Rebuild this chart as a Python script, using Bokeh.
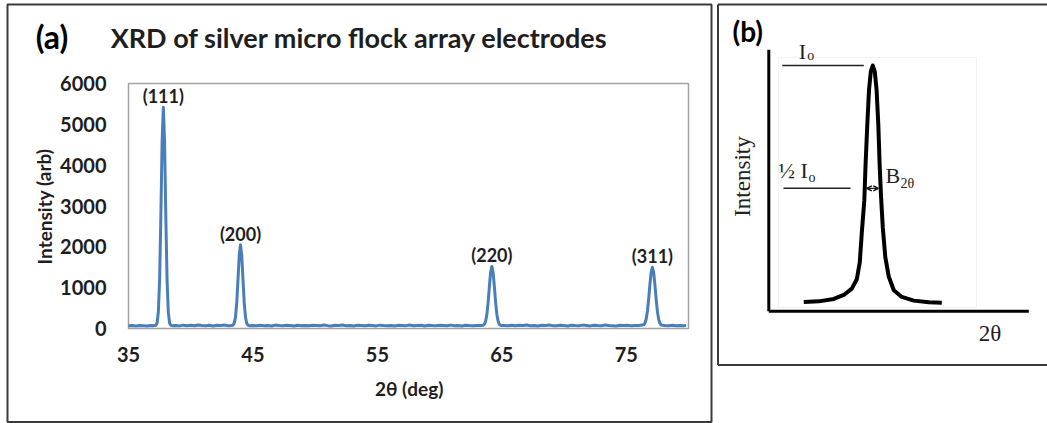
from bokeh.plotting import figure
from bokeh.models import Range1d, FixedTicker, LinearAxis, Arrow, OpenHead
from bokeh.core.properties import value
from bokeh.embed import file_html
from bokeh.resources import INLINE

# ---------------- Panel (a) data: XRD scan ----------------
seg_a_x = [35.0, 35.3, 35.6, 35.9, 36.2, 36.5, 36.8, 37.0]
seg_a_y = [66, 72, 60, 75, 68, 63, 74, 70]
peak1_x = [37.1, 37.2, 37.3, 37.4, 37.5, 37.6, 37.7, 37.8, 37.9, 38.0, 38.1, 38.2, 38.3, 38.4, 38.5]
peak1_y = [72, 80, 140, 410, 1190, 2740, 4570, 5420, 4560, 2720, 1170, 400, 135, 78, 70]
seg_b_x = [38.8, 39.1, 39.4, 39.7, 40.0, 40.3, 40.6, 40.9, 41.2, 41.5, 41.8, 42.1, 42.4, 42.7, 43.0]
seg_b_y = [76, 64, 82, 70, 78, 66, 85, 72, 69, 80, 63, 77, 71, 84, 68]
peak2_x = [43.3, 43.4, 43.5, 43.6, 43.7, 43.8, 43.9, 44.0, 44.1, 44.2, 44.3, 44.4, 44.5, 44.6, 44.7]
peak2_y = [74, 84, 131, 284, 640, 1210, 1790, 2050, 1785, 1200, 630, 280, 128, 82, 70]
seg_c_x = [45.0, 45.3, 45.6, 45.9, 46.2, 46.5, 46.8, 47.1, 47.4, 47.7, 48.0, 48.3, 48.6, 48.9,
           49.2, 49.5, 49.8, 50.1, 50.4, 50.7, 51.0, 51.3, 51.6, 51.9, 52.2, 52.5, 52.8, 53.1,
           53.4, 53.7, 54.0, 54.3, 54.6, 54.9, 55.2, 55.5, 55.8, 56.1, 56.4, 56.7, 57.0, 57.3,
           57.6, 57.9, 58.2, 58.5, 58.8, 59.1, 59.4, 59.7, 60.0, 60.3, 60.6, 60.9, 61.2, 61.5,
           61.8, 62.1, 62.4, 62.7, 63.0, 63.3]
seg_c_y = [72, 66, 80, 69, 75, 62, 83, 71, 67, 78, 74, 60, 81, 70, 76, 65, 79, 73, 68, 84,
           70, 63, 77, 72, 86, 69, 74, 61, 80, 75, 67, 78, 71, 64, 82, 73, 69, 76, 62, 79,
           74, 70, 85, 66, 72, 78, 63, 80, 71, 68, 77, 73, 65, 83, 70, 75, 62, 79, 72, 68,
           76, 71]
peak3_x = [63.5, 63.6, 63.7, 63.8, 63.9, 64.0, 64.1, 64.2, 64.3, 64.4, 64.5, 64.6, 64.7, 64.8, 64.9]
peak3_y = [79, 105, 180, 348, 643, 1030, 1378, 1520, 1375, 1025, 640, 345, 178, 102, 76]
seg_d_x = [65.2, 65.5, 65.8, 66.1, 66.4, 66.7, 67.0, 67.3, 67.6, 67.9, 68.2, 68.5, 68.8, 69.1,
           69.4, 69.7, 70.0, 70.3, 70.6, 70.9, 71.2, 71.5, 71.8, 72.1, 72.4, 72.7, 73.0, 73.3,
           73.6, 73.9, 74.2, 74.5, 74.8, 75.1, 75.4, 75.7, 76.0]
seg_d_y = [73, 68, 80, 65, 77, 71, 84, 69, 75, 62, 79, 73, 88, 70, 66, 81, 74, 63, 78, 71,
           69, 83, 75, 64, 80, 72, 67, 85, 76, 70, 62, 78, 73, 81, 68, 74, 71]
peak4_x = [76.4, 76.5, 76.6, 76.7, 76.8, 76.9, 77.0, 77.1, 77.2, 77.3, 77.4, 77.5, 77.6, 77.7, 77.8]
peak4_y = [90, 133, 233, 428, 725, 1081, 1381, 1500, 1378, 1075, 720, 425, 230, 130, 88]
seg_e_x = [78.1, 78.4, 78.7, 79.0, 79.3, 79.6, 79.8]
seg_e_y = [75, 68, 80, 66, 74, 70, 72]

peak_labels = ["(111)", "(200)", "(220)", "(311)"]
peak_pos = [37.8, 44.0, 64.2, 77.1]
peak_height = [5420, 2050, 1520, 1500]

x_min, x_max = 35, 80
y_min, y_max = 0, 6000
x_ticks = [35, 45, 55, 65, 75]
y_ticks = [0, 1000, 2000, 3000, 4000, 5000, 6000]

scan_x = seg_a_x + peak1_x + seg_b_x + peak2_x + seg_c_x + peak3_x + seg_d_x + peak4_x + seg_e_x
scan_y = seg_a_y + peak1_y + seg_b_y + peak2_y + seg_c_y + peak3_y + seg_d_y + peak4_y + seg_e_y

# ---------------- Panel (b) data: schematic peak ----------------
curve_u = [3.5, 5.0, 6.5, 7.5, 8.3, 8.8, 9.1, 9.3, 9.55, 9.68, 9.85, 10.02, 10.2, 10.4,
           10.6, 10.78, 10.95, 11.08, 11.22, 11.4, 11.65, 12.0, 12.5, 13.3, 14.5, 16.0, 17.3]
curve_v = [0.037, 0.040, 0.050, 0.066, 0.092, 0.13, 0.2, 0.32, 0.45, 0.6, 0.76, 0.9, 0.975, 1.0,
           0.975, 0.9, 0.76, 0.6, 0.47, 0.34, 0.22, 0.14, 0.085, 0.058, 0.043, 0.036, 0.034]
i0_level = 1.0
half_level = 0.5
i0_line_u = [1.34, 9.5]
half_line_u = [1.47, 8.17]
fwhm_u = [9.8, 10.95]
axis_top_v = 1.064
axis_right_u = 26.0

FONT = "Lato"
SERIF = "Liberation Serif"
BLUE = "#4A7EBB"
TXT = "#1e1e1e"
BOX = "#3a3a3a"

W, H = 1047, 423

# one canvas; the default ranges are page pixels (y downward) used for the panel boxes
p = figure(width=W, height=H, x_range=Range1d(0, W), y_range=Range1d(H, 0),
           output_backend="svg", toolbar_location=None, x_axis_type=None, y_axis_type=None,
           min_border_left=0, min_border_right=0, min_border_top=0, min_border_bottom=0)
p.title.visible = False
p.outline_line_color = None
p.background_fill_color = "white"
p.border_fill_color = "white"

# panel (a) data ranges: 35 -> x=128px, 80 -> x=688px ; 0 -> y=328px, 6000 -> y=83px
kx = (688 - 128) / (x_max - x_min)
ky = (328 - 83) / (y_max - y_min)
p.extra_x_ranges = {
    "ax": Range1d(x_min - 128 / kx, x_min + (W - 128) / kx),
    "bu": Range1d((0 - 768.3) / 10, (W - 768.3) / 10),
}
p.extra_y_ranges = {
    "ay": Range1d(y_min - (H - 328) / ky, y_min + 328 / ky),
    "bv": Range1d((310.7 - H) / 245.7, 310.7 / 245.7),
}
A = dict(x_range_name="ax", y_range_name="ay")
B = dict(x_range_name="bu", y_range_name="bv")

# ---- panel boxes (page pixels) ----
p.quad(left=[7], right=[711], top=[4], bottom=[421.5], fill_color=None, line_color=BOX, line_width=2)
p.multi_line(xs=[[717.5, 717.5], [717.5, W], [717.5, W]], ys=[[4, 364.5], [4, 4], [364.5, 364.5]],
             line_color=BOX, line_width=2)

# ---- panel (a) ----
p.quad(left=[x_min], right=[x_max], bottom=[y_min], top=[y_max], fill_color=None,
       line_color="#a3a3a3", line_width=1.5, **A)

xa = LinearAxis(fixed_location=y_min, ticker=FixedTicker(ticks=x_ticks), **A)
ya = LinearAxis(fixed_location=x_min, ticker=FixedTicker(ticks=y_ticks), **A)
for ax in (xa, ya):
    ax.axis_line_color = None
    ax.major_tick_line_color = None
    ax.minor_tick_line_color = None
    ax.major_label_text_font = FONT
    ax.major_label_text_font_style = "bold"
    ax.major_label_text_font_size = "20px"
    ax.major_label_text_color = TXT
xa.major_label_standoff = 12
ya.major_label_standoff = 16
p.add_layout(xa, "below")
p.add_layout(ya, "left")

p.line(scan_x, scan_y, line_color=BLUE, line_width=3, line_join="round", **A)
p.text(x=peak_pos, y=peak_height, text=peak_labels, text_align="center", text_baseline="bottom",
       text_font=value(FONT), text_font_style="bold", text_font_size="18px", text_color=TXT, **A)

bold = dict(text_font=value(FONT), text_font_style="bold")
p.text(x=[408.5], y=[388], text=["2θ (deg)"], text_align="center", text_baseline="middle",
       text_font_size="19px", text_color=TXT, **bold)
p.text(x=[43.5], y=[206], text=["Intensity (arb)"], angle=1.5708, text_align="center",
       text_baseline="middle", text_font_size="19px", text_color=TXT, **bold)
p.text(x=[51.5], y=[36], text=["(a)"], text_align="center", text_baseline="middle",
       text_font_size="32px", text_color="black", **bold)
p.text(x=[359], y=[37], text=["XRD of silver micro flock array electrodes"], text_align="center",
       text_baseline="middle", text_font_size="27px", text_color=TXT, **bold)

# ---- panel (b) ----
p.quad(left=[0.97], right=[20.77], bottom=[0.015], top=[1.033], fill_color=None,
       line_color="#f2f2f2", line_width=1, **B)
p.line([0, 0], [0, axis_top_v], line_color="black", line_width=3, **B)
p.line([0, axis_right_u], [0, 0], line_color="black", line_width=3, **B)
p.line(curve_u, curve_v, line_color="black", line_width=4, line_join="round", **B)
p.line(i0_line_u, [i0_level, i0_level], line_color="#222222", line_width=1.5, **B)
p.line(half_line_u, [half_level, half_level], line_color="#222222", line_width=1.5, **B)
p.add_layout(Arrow(start=OpenHead(size=5, line_width=1.2), end=OpenHead(size=5, line_width=1.2),
                   x_start=fwhm_u[0], y_start=half_level, x_end=fwhm_u[1], y_end=half_level,
                   line_width=1.2, line_color="#222222", **B))

serif = dict(text_font=value(SERIF), text_color="#222222")
p.text(x=[3.0], y=[1.059], text=["I"], text_align="left", text_baseline="middle",
       text_font_size="22px", **serif, **B)
p.text(x=[3.84], y=[1.039], text=["o"], text_align="left", text_baseline="middle",
       text_font_size="14px", **serif, **B)
p.text(x=[0.97], y=[0.571], text=["½ I"], text_align="left", text_baseline="middle",
       text_font_size="22px", **serif, **B)
p.text(x=[3.97], y=[0.546], text=["o"], text_align="left", text_baseline="middle",
       text_font_size="14px", **serif, **B)
p.text(x=[11.67], y=[0.552], text=["B"], text_align="left", text_baseline="middle",
       text_font_size="22px", **serif, **B)
p.text(x=[13.17], y=[0.518], text=["2θ"], text_align="left", text_baseline="middle",
       text_font_size="14px", **serif, **B)
p.text(x=[-2.63], y=[0.548], text=["Intensity"], angle=1.5708, text_align="center",
       text_baseline="middle", text_font_size="23px", **serif, **B)
p.text(x=[22.12], y=[-0.091], text=["2θ"], text_align="center", text_baseline="middle",
       text_font_size="23px", **serif, **B)
p.text(x=[-3.63], y=[1.14], text=["(b)"], text_align="left", text_baseline="middle",
       text_font_size="28px", text_color="black", **bold, **B)

open("out.html", "w").write(file_html(p, INLINE, title="XRD"))
